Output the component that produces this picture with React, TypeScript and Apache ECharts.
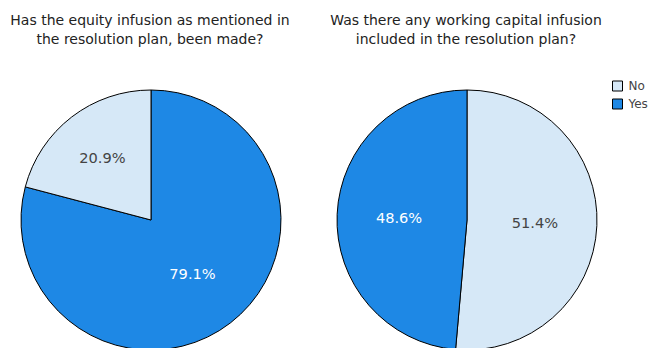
import React, { useEffect, useRef } from "react";
import * as echarts from "echarts";

// Survey answers, one pie per question
const categories = ["Yes", "No"];
const equityValues = [79.1, 20.9];
const capitalValues = [48.6, 51.4];
const titles = [
  "Has the equity infusion as mentioned in\nthe resolution plan, been made?",
  "Was there any working capital infusion\nincluded in the resolution plan?",
];

const COLORS: Record<string, string> = { Yes: "#1e88e5", No: "#d6e8f7" };
const LABEL_COLORS: Record<string, string> = { Yes: "#ffffff", No: "#444444" };
const FONT = "DejaVu Sans, Verdana, sans-serif";

function pieData(values: number[], order: string[]) {
  return order.map((name) => {
    const v = values[categories.indexOf(name)];
    return {
      name,
      value: v,
      itemStyle: { color: COLORS[name] },
      label: { color: LABEL_COLORS[name] },
    };
  });
}

// Small slices carry their label farther out: an empty second line and a
// trailing spacer push the text up and outwards.
function percentLabel(p: any) {
  const txt = `${p.value.toFixed(1)}%`;
  return p.value < 25 ? `{t|${txt}}{s| }\n{t| }` : txt;
}

export default function App() {
  const ref = useRef<HTMLDivElement>(null);

  useEffect(() => {
    if (!ref.current) return;
    const chart = echarts.init(ref.current, undefined, { renderer: "svg" });
    const common = {
      type: "pie" as const,
      radius: 130,
      startAngle: 90,
      clockwise: true,
      silent: true,
      label: {
        show: true,
        position: "inside" as const,
        formatter: percentLabel,
        fontFamily: FONT,
        fontSize: 14.6,
        rich: {
          t: { fontFamily: FONT, fontSize: 14.6, lineHeight: 18, color: "#444444" },
          s: { fontFamily: FONT, fontSize: 14.6, lineHeight: 18, width: 14 },
        },
      },
      labelLine: { show: false },
      itemStyle: { borderColor: "#000", borderWidth: 1 },
    };
    const titleStyle = {
      fontFamily: FONT,
      fontSize: 14,
      fontWeight: "normal" as const,
      color: "#222",
      lineHeight: 19,
    };
    chart.setOption({
      animation: false,
      backgroundColor: "#fff",
      title: [
        { text: titles[0], left: 145, top: 5, textAlign: "center", textStyle: titleStyle },
        { text: titles[1], left: 461, top: 5, textAlign: "center", textStyle: titleStyle },
      ],
      legend: {
        orient: "vertical",
        left: 607,
        top: 75,
        data: ["No", "Yes"],
        icon: "rect",
        itemWidth: 10,
        itemHeight: 10,
        itemGap: 6,
        selectedMode: false,
        itemStyle: { borderColor: "#000", borderWidth: 1 },
        textStyle: { fontFamily: FONT, fontSize: 12, color: "#444", padding: [0, 0, 0, 1] },
      },
      series: [
        { ...common, name: "equity", center: [151, 220], data: pieData(equityValues, ["Yes", "No"]) },
        { ...common, name: "capital", center: [467, 220], data: pieData(capitalValues, ["No", "Yes"]) },
      ],
    });
    return () => chart.dispose();
  }, []);

  return (
    <div
      ref={ref}
      style={{ position: "fixed", left: 0, top: 0, width: 657, height: 348 }}
    />
  );
}
